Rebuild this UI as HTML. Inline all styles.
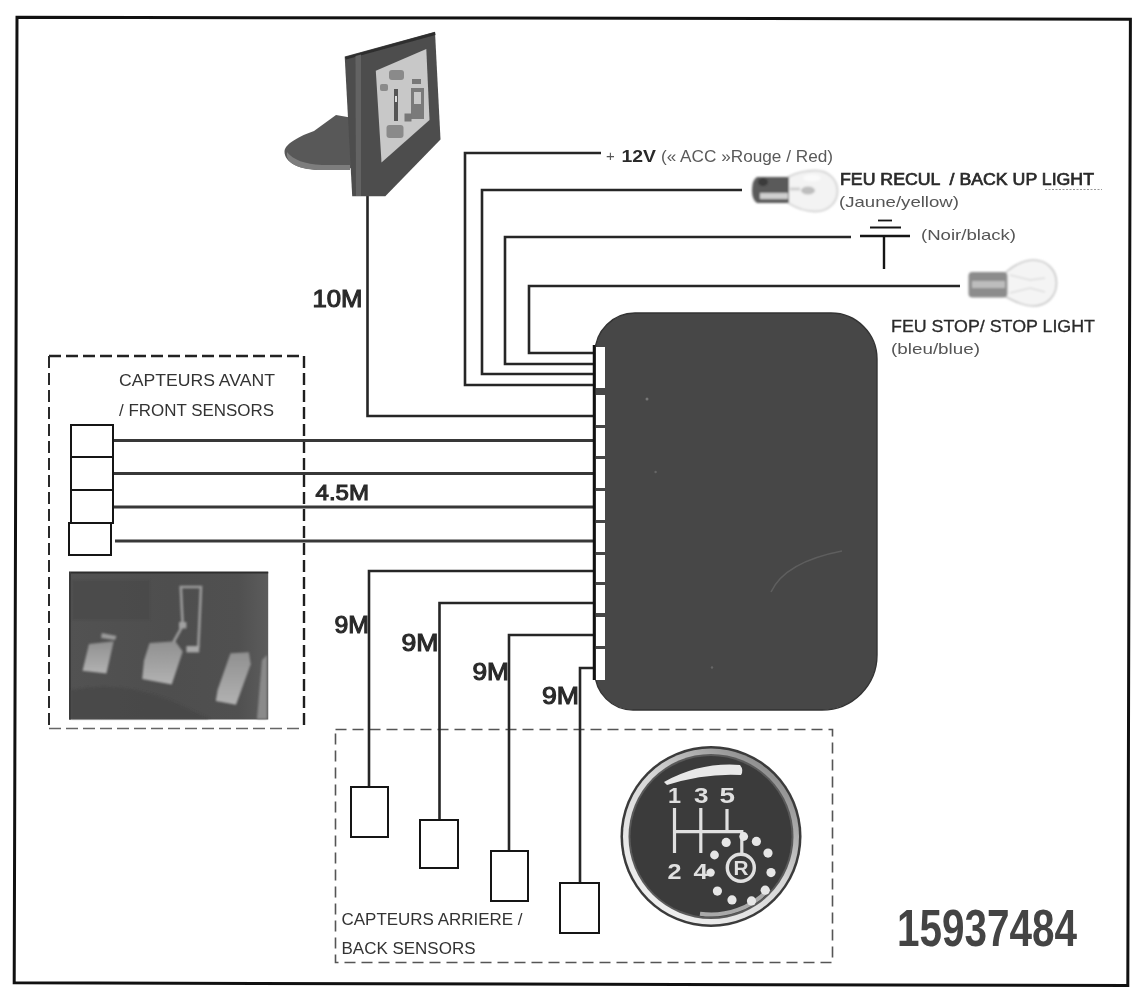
<!DOCTYPE html>
<html><head><meta charset="utf-8">
<style>
html,body{margin:0;padding:0;background:#fff;width:1142px;height:1000px;overflow:hidden}
svg{display:block;will-change:transform}
text{font-family:"Liberation Sans",sans-serif}
</style></head>
<body>
<svg width="1142" height="1000" viewBox="0 0 1142 1000">
<rect x="0" y="0" width="1142" height="1000" fill="#fff"/>
<!-- outer frame -->
<path d="M17 17.2 L1130.4 19.2 L1127.8 985.6 L14.2 982.8 Z" fill="none" stroke="#111" stroke-width="3" stroke-linejoin="miter"/>

<!-- front dashed box -->
<g fill="none" stroke-dasharray="12 5">
<path d="M49 356 H304" stroke="#222" stroke-width="2.3"/>
<path d="M49 356 V728" stroke="#2a2a2a" stroke-width="2"/>
<path d="M304 356 V728" stroke="#1e1e1e" stroke-width="2.4"/>
<path d="M49 728.5 H304" stroke="#666" stroke-width="1.7"/>
</g>
<!-- rear dashed box -->
<rect x="335.5" y="729.5" width="497" height="233" fill="none" stroke="#555" stroke-width="1.6" stroke-dasharray="11 6"/>

<!-- wires -->
<g fill="none" stroke="#262626" stroke-width="2.6">
<path d="M367.5 196 V416 H594"/>
<path d="M601 153 H465 V385 H594"/>
<path d="M742 190 H482 V374 H594"/>
<path d="M851 237 H505 V364 H594"/>
<path d="M960 286 H529 V353 H594"/>
<path d="M113 440.5 H594 M113 473.5 H594 M113 507 H594 M115 541 H594" stroke="#383838" stroke-width="2.8"/>
<path d="M594 571 H369 V787"/>
<path d="M594 603 H439.5 V820"/>
<path d="M594 635 H509 V851"/>
<path d="M594 668 H580 V883"/>
</g>

<!-- control box -->
<path d="M635 313 H831 A46 46 0 0 1 877 359 V655 A55 55 0 0 1 822 710 H633 A38 38 0 0 1 595 672 V353 A40 40 0 0 1 635 313 Z" fill="#474747" stroke="#333" stroke-width="1.4"/>
<path d="M771 592 Q785 562 842 551" fill="none" stroke="#5e5e5e" stroke-width="1.6"/>
<circle cx="647" cy="399" r="1.5" fill="#777"/>
<circle cx="655.6" cy="472" r="1.2" fill="#666"/>
<circle cx="712" cy="667.5" r="1.2" fill="#666"/>
<line x1="594" y1="345" x2="594" y2="680" stroke="#111" stroke-width="2.5"/>
<g fill="#fff">
<rect x="596" y="347" width="9" height="41"/>
<rect x="596" y="395" width="9" height="30"/>
<rect x="596" y="428" width="9" height="28"/>
<rect x="596" y="459" width="9" height="29"/>
<rect x="596" y="491" width="9" height="29"/>
<rect x="596" y="523" width="9" height="29"/>
<rect x="596" y="555" width="9" height="27"/>
<rect x="596" y="585" width="9" height="28"/>
<rect x="596" y="617" width="9" height="29"/>
<rect x="596" y="649" width="9" height="31"/>
</g>

<!-- front sensors -->
<g fill="#fff" stroke="#151515" stroke-width="2">
<rect x="71" y="425" width="42" height="32"/>
<rect x="71" y="457" width="42" height="33"/>
<rect x="71" y="490" width="42" height="33"/>
<rect x="69" y="523" width="42" height="32"/>
</g>
<!-- rear sensors -->
<g fill="#fff" stroke="#151515" stroke-width="2">
<rect x="351" y="787" width="37" height="50"/>
<rect x="420" y="820" width="38" height="48"/>
<rect x="491" y="851" width="37" height="50"/>
<rect x="560" y="883" width="39" height="50"/>
</g>

<!-- texts -->
<g fill="#2a2a2a" stroke="#2a2a2a" stroke-width="1.1">
<text x="312.5" y="307" font-size="24" textLength="50" lengthAdjust="spacingAndGlyphs">10M</text>
<text x="315.5" y="499.5" font-size="22.5" textLength="53.5" lengthAdjust="spacingAndGlyphs">4.5M</text>
<text x="334.5" y="632.5" font-size="23.5" textLength="34.5" lengthAdjust="spacingAndGlyphs">9M</text>
<text x="401.5" y="651" font-size="23.5" textLength="37" lengthAdjust="spacingAndGlyphs">9M</text>
<text x="472.5" y="680" font-size="23.5" textLength="36.5" lengthAdjust="spacingAndGlyphs">9M</text>
<text x="542" y="703.5" font-size="23.5" textLength="37" lengthAdjust="spacingAndGlyphs">9M</text>
</g>
<g fill="#333" font-size="16">
<text x="119" y="386" textLength="156" lengthAdjust="spacingAndGlyphs">CAPTEURS AVANT</text>
<text x="119" y="415.5" textLength="155" lengthAdjust="spacingAndGlyphs">/ FRONT SENSORS</text>
<text x="341.5" y="925" textLength="181" lengthAdjust="spacingAndGlyphs">CAPTEURS ARRIERE /</text>
<text x="341.5" y="954" textLength="134" lengthAdjust="spacingAndGlyphs">BACK SENSORS</text>
</g>
<!-- right labels -->
<g fill="#444" font-size="16">
<text x="606" y="161" font-size="15" fill="#555">+</text>
<text x="621.5" y="162" font-size="17" font-weight="bold" fill="#2a2a2a" textLength="34.5" lengthAdjust="spacingAndGlyphs">12V</text>
<text x="661" y="162" font-size="16" fill="#5a5a5a" textLength="172" lengthAdjust="spacingAndGlyphs">(« ACC »Rouge / Red)</text>
</g>
<g fill="#2a2a2a" font-size="16">
<text x="840" y="184.5" stroke="#2a2a2a" stroke-width="0.7" font-size="16.5" textLength="254" lengthAdjust="spacingAndGlyphs" xml:space="preserve">FEU RECUL  / BACK UP LIGHT</text>
<text x="839" y="207" fill="#555" font-size="15" textLength="120" lengthAdjust="spacingAndGlyphs">(Jaune/yellow)</text>
<text x="921" y="240" fill="#555" font-size="15" textLength="95" lengthAdjust="spacingAndGlyphs">(Noir/black)</text>
<text x="891" y="331.5" font-size="16.5" stroke="#2a2a2a" stroke-width="0.3" textLength="204" lengthAdjust="spacingAndGlyphs">FEU STOP/ STOP LIGHT</text>
<text x="891" y="354" fill="#555" font-size="15" textLength="89" lengthAdjust="spacingAndGlyphs">(bleu/blue)</text>
</g>
<path d="M1045 189.5 H1102" stroke="#999" stroke-width="1.2" stroke-dasharray="2 1.5" fill="none"/>
<!-- ground symbol -->
<g stroke="#151515" fill="none">
<line x1="860" y1="236" x2="910" y2="236" stroke-width="2.4"/>
<line x1="870" y1="227.5" x2="901" y2="227.5" stroke-width="2"/>
<line x1="878" y1="220.5" x2="892" y2="220.5" stroke-width="1.8"/>
<line x1="884" y1="236" x2="884" y2="269" stroke-width="2.4"/>
</g>

<!-- bulbs -->
<defs>
<filter id="soft" x="-20%" y="-20%" width="140%" height="140%"><feGaussianBlur stdDeviation="0.9"/></filter>
<filter id="soft2" x="-20%" y="-20%" width="140%" height="140%"><feGaussianBlur stdDeviation="0.6"/></filter>
<radialGradient id="glass" cx="0.55" cy="0.45" r="0.6">
<stop offset="0" stop-color="#f6f6f6"/><stop offset="0.7" stop-color="#ececec"/><stop offset="1" stop-color="#d8d8d8"/>
</radialGradient>
</defs>
<g filter="url(#soft)">
<path d="M788 177 C798 172 806 170.5 815 170.5 C829 170.5 837.5 180 837.5 191 C837.5 202 829 211.5 815 211.5 C806 211.5 798 209 788 203 Z" fill="#f3f3f3" stroke="#d6d6d6" stroke-width="2"/>
<ellipse cx="812" cy="178" rx="9" ry="3.5" fill="#fafafa"/>
<ellipse cx="808" cy="190.5" rx="7" ry="4" fill="#bdbdbd"/>
<path d="M790 189 H800" stroke="#cfcfcf" stroke-width="3"/>
<path d="M757 177 H789 V203 H757 Q752 200 752 190 Q752 180 757 177 Z" fill="#5a5a5a"/>
<rect x="760" y="193" width="28" height="6" fill="#cfcfcf"/>
<ellipse cx="763" cy="182" rx="5" ry="4" fill="#3a3a3a"/>
<path d="M1006 272 C1016 264 1024 260 1033 260 C1047 260 1056.5 270 1056.5 283 C1056.5 296 1047 306 1033 306 C1024 306 1016 302 1006 297 Z" fill="#f4f4f4" stroke="#c8c8c8" stroke-width="1.6"/>
<path d="M1010 275 L1030 280 L1045 278 M1010 293 L1030 288 L1045 292" stroke="#d0d0d0" stroke-width="1" fill="none"/>
<rect x="968.5" y="272" width="39" height="25.5" rx="4" fill="#8c8c8c"/>
<rect x="972" y="281" width="33" height="7" fill="#bdbdbd"/>
</g>

<!-- monitor -->
<g filter="url(#soft2)">
<path d="M284.5 151 C286 143 300 136 314 131 L336 115 L353 118 L353 168 L323 170 C300 170 284 163 284.5 151 Z" fill="#585858"/>
<path d="M287 152 C293 160 305 164 322 165 L350 165 L350 170 L322 170 C300 170 285 164 287 152 Z" fill="#7d7d7d"/>
<path d="M344.7 56.5 L435 31.8 L440.5 139.4 L385.3 196.2 L352.2 196.2 Z" fill="#4e4e4e"/>
<path d="M345 57 L435 32 L435.5 35 L346 59.5 Z" fill="#2e2e2e"/>
<path d="M355.5 56 L361 54.5 L361 196 L356 196 Z" fill="#636363"/>
<path d="M375.8 70.8 L426.3 49 L429.5 120 L381.5 162.4 Z" fill="#c8c8c8"/>
<g fill="#8a8a8a">
<rect x="389" y="70" width="15" height="10" rx="3"/>
<rect x="380" y="84" width="8" height="7" rx="2"/>
<rect x="394" y="89" width="4" height="32" fill="#555"/>
<rect x="386.5" y="125" width="17" height="13" rx="3"/>
<rect x="412" y="79" width="9" height="5" fill="#777"/>
<path d="M411 88 H424 V119 H411 Z M414 92 V104 H421 V92 Z" fill="#7a7a7a" fill-rule="evenodd"/>
<rect x="404.5" y="113.5" width="7" height="8" fill="#777"/>
</g>
<rect x="395" y="96" width="2" height="6" fill="#ddd"/>
</g>

<!-- pedals photo -->
<defs>
<linearGradient id="phg" x1="0" y1="0" x2="1" y2="0">
<stop offset="0" stop-color="#525252"/><stop offset="0.5" stop-color="#4e4e4e"/><stop offset="0.85" stop-color="#505050"/><stop offset="1" stop-color="#5c5c5c"/>
</linearGradient>
<linearGradient id="pedg" x1="0" y1="0" x2="0" y2="1">
<stop offset="0" stop-color="#909090"/><stop offset="1" stop-color="#b2b2b2"/>
</linearGradient>
<filter id="soft3" x="-10%" y="-10%" width="120%" height="120%"><feGaussianBlur stdDeviation="1.3"/></filter>
</defs>
<g>
<rect x="69" y="572" width="199.2" height="147.5" fill="url(#phg)"/>
<rect x="69" y="571.5" width="199.2" height="2" fill="#2e2e2e"/>
<rect x="69" y="572" width="2" height="147.5" fill="#3a3a3a"/>
<g filter="url(#soft3)">
<path d="M72 580 H150 V620 H72 Z" fill="#4a4a4a" opacity="0.6"/>
<path d="M71 690 Q120 680 170 700 L210 719 H71 Z" fill="#474747" opacity="0.7"/>
<path d="M101.8 633 L116.5 636 L115 640 L101 638 Z" fill="#9a9a9a"/>
<path d="M89 644 L113.7 641.3 L106.4 673.5 L82.5 670.7 Z" fill="url(#pedg)"/>
<path d="M149.6 643 L175.3 641.3 L182.7 651.4 L171.7 684.5 L142.2 679 L144 660.6 Z" fill="url(#pedg)"/>
<path d="M173.5 642 L182.7 625.7 L180.8 587 H201 L198.3 647.7" fill="none" stroke="#9c9c9c" stroke-width="2.6"/>
<rect x="179" y="622" width="7.4" height="6.4" fill="#a0a0a0"/>
<rect x="186.4" y="646" width="12.8" height="6.4" fill="#a8a8a8"/>
<path d="M230.5 653.3 L248.9 652.3 L250.7 664.3 L236 704.8 L215.8 701 L217.6 690 Z" fill="url(#pedg)"/>
<path d="M262 660 L267 655 V719 H257 Z" fill="#8a8a8a"/>
</g>
</g>

<!-- gear knob -->
<defs>
<linearGradient id="ringg" x1="0.85" y1="0.1" x2="0.2" y2="0.9">
<stop offset="0" stop-color="#8a8a8a"/><stop offset="0.45" stop-color="#d6d6d6"/><stop offset="1" stop-color="#eeeeee"/>
</linearGradient>
<radialGradient id="ring" cx="0.45" cy="0.4" r="0.6">
<stop offset="0.8" stop-color="#cfcfcf"/><stop offset="0.93" stop-color="#efefef"/><stop offset="1" stop-color="#555"/>
</radialGradient>
</defs>
<g filter="url(#soft2)">
<circle cx="711" cy="836.5" r="90.5" fill="#3a3a3a"/>
<circle cx="711" cy="836.5" r="88" fill="url(#ringg)"/>
<circle cx="711" cy="836.5" r="82.5" fill="#5a5a5a"/>
<circle cx="711" cy="836.5" r="80.5" fill="#3b3b3b"/>
<path d="M664 782 Q700 762 740 765 Q744 770 741 775 Q705 773 667 785 Z" fill="#e8e8e8"/>
<path d="M769 889 A78 78 0 0 1 700 913.7" fill="none" stroke="#cfcfcf" stroke-width="4" opacity="0.75"/>
<g stroke="#e0e0e0" stroke-width="3.2" fill="none">
<path d="M674.5 808 V853 M700.8 808 V853 M727 809 V832 M674.5 831.6 H741.8 V855"/>
</g>
<g fill="#e0e0e0" font-size="22" font-weight="bold">
<text x="668" y="802.5" textLength="13" lengthAdjust="spacingAndGlyphs">1</text>
<text x="694" y="802.5" textLength="14.5" lengthAdjust="spacingAndGlyphs">3</text>
<text x="719.5" y="802.5" textLength="15.5" lengthAdjust="spacingAndGlyphs">5</text>
<text x="667.5" y="878.5" textLength="14" lengthAdjust="spacingAndGlyphs">2</text>
<text x="693.5" y="878.5" textLength="14.5" lengthAdjust="spacingAndGlyphs">4</text>
</g>
<circle cx="740.8" cy="867.7" r="13.5" fill="none" stroke="#e0e0e0" stroke-width="3.4"/>
<text x="733.5" y="875" font-size="20" font-weight="bold" fill="#e0e0e0" textLength="15" lengthAdjust="spacingAndGlyphs">R</text>
<g fill="#e6e6e6">
<circle cx="726.2" cy="842.4" r="4.6"/>
<circle cx="743.7" cy="836.5" r="4.4"/>
<circle cx="756.4" cy="841.4" r="4.6"/>
<circle cx="768" cy="853.1" r="4.6"/>
<circle cx="771" cy="872.6" r="4.6"/>
<circle cx="765.2" cy="890.2" r="4.6"/>
<circle cx="751.5" cy="900.9" r="4.6"/>
<circle cx="732" cy="899.9" r="4.6"/>
<circle cx="717.4" cy="891.1" r="4.6"/>
<circle cx="710.6" cy="872.6" r="4.2"/>
<circle cx="714.5" cy="855" r="4.4"/>
</g>
</g>

<text x="897" y="946" font-size="52" font-weight="bold" fill="#444" textLength="180" lengthAdjust="spacingAndGlyphs">15937484</text>

</svg>
</body></html>
